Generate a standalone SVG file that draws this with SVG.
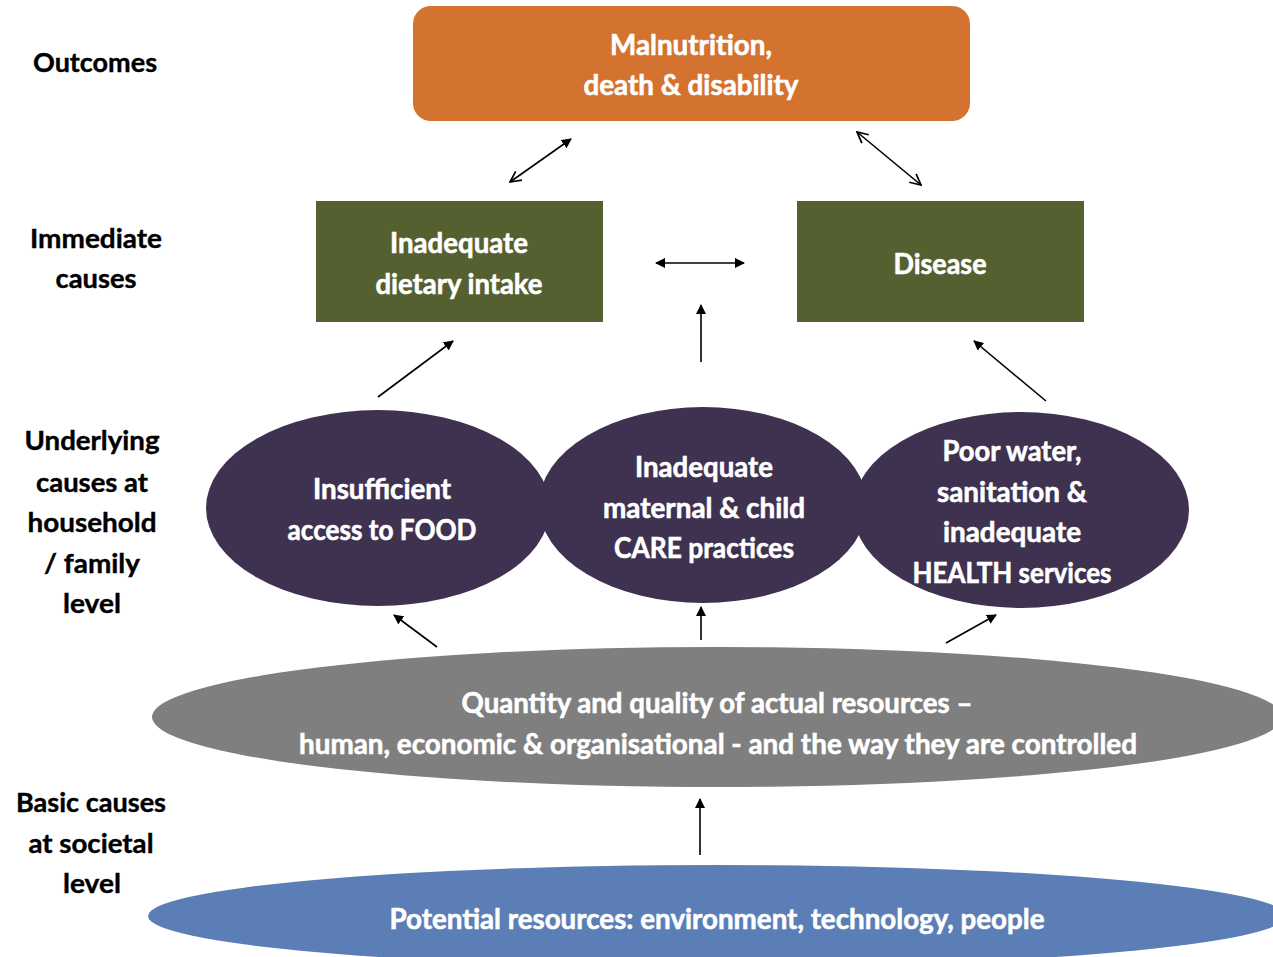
<svg xmlns="http://www.w3.org/2000/svg" width="1273" height="957" viewBox="0 0 1273 957">
  <defs>
    <style>
      .lbl { font-family: Lato, "Liberation Sans", sans-serif; font-weight: bold; font-size: 27px; fill: #000; stroke: #000; stroke-width: 0.4; text-anchor: middle; }
      .in  { font-family: Lato, "Liberation Sans", sans-serif; font-weight: bold; font-size: 29px; fill: #fff; stroke: #fff; stroke-width: 0.6; text-anchor: middle; }
      .edge { stroke: #000; stroke-width: 1.6; fill: none; }
    </style>
    <marker id="tri" viewBox="0 0 10 10" refX="9" refY="5" markerWidth="10" markerHeight="10" markerUnits="userSpaceOnUse" orient="auto-start-reverse">
      <path d="M0,0 L10,5 L0,10 z" fill="#000"/>
    </marker>
    <marker id="vee" viewBox="0 0 12 12" refX="11" refY="6" markerWidth="13" markerHeight="13" markerUnits="userSpaceOnUse" orient="auto-start-reverse">
      <path d="M1,1 L11,6 L1,11" fill="none" stroke="#000" stroke-width="1.6"/>
    </marker>
  </defs>

  <rect width="1273" height="957" fill="#fff"/>

  <!-- level labels -->
  <g id="labels">
    <text class="lbl" x="95" y="72" textLength="124" lengthAdjust="spacingAndGlyphs">Outcomes</text>
    <text class="lbl" x="96" y="248" textLength="132" lengthAdjust="spacingAndGlyphs">Immediate</text>
    <text class="lbl" x="96" y="288" textLength="81" lengthAdjust="spacingAndGlyphs">causes</text>
    <text class="lbl" x="92" y="450" textLength="135" lengthAdjust="spacingAndGlyphs">Underlying</text>
    <text class="lbl" x="92" y="492" textLength="112" lengthAdjust="spacingAndGlyphs">causes at</text>
    <text class="lbl" x="92" y="532" textLength="129" lengthAdjust="spacingAndGlyphs">household</text>
    <text class="lbl" x="92" y="573" textLength="96" lengthAdjust="spacingAndGlyphs">/ family</text>
    <text class="lbl" x="92" y="613" textLength="58" lengthAdjust="spacingAndGlyphs">level</text>
    <text class="lbl" x="91" y="812" textLength="150" lengthAdjust="spacingAndGlyphs">Basic causes</text>
    <text class="lbl" x="91" y="853" textLength="125" lengthAdjust="spacingAndGlyphs">at societal</text>
    <text class="lbl" x="92" y="893" textLength="58" lengthAdjust="spacingAndGlyphs">level</text>
  </g>

  <!-- outcome -->
  <g id="outcome">
    <rect x="413" y="6" width="557" height="115" rx="18" fill="#D4722F"/>
    <text class="in" x="691" y="55" textLength="162" lengthAdjust="spacingAndGlyphs">Malnutrition,</text>
    <text class="in" x="691" y="95" textLength="215" lengthAdjust="spacingAndGlyphs">death &amp; disability</text>
  </g>

  <!-- immediate causes -->
  <g id="intake">
    <rect x="316" y="201" width="287" height="121" fill="#546030"/>
    <text class="in" x="459" y="253" textLength="138" lengthAdjust="spacingAndGlyphs">Inadequate</text>
    <text class="in" x="459" y="294" textLength="167" lengthAdjust="spacingAndGlyphs">dietary intake</text>
  </g>
  <g id="disease">
    <rect x="797" y="201" width="287" height="121" fill="#546030"/>
    <text class="in" x="940" y="274" textLength="93" lengthAdjust="spacingAndGlyphs">Disease</text>
  </g>

  <!-- underlying causes -->
  <g id="food">
    <ellipse cx="378" cy="508" rx="172" ry="98" fill="#3F3150"/>
  </g>
  <g id="water">
    <ellipse cx="1021" cy="510" rx="168" ry="98" fill="#3F3150"/>
  </g>
  <g id="care">
    <ellipse cx="703" cy="505" rx="164" ry="98" fill="#3F3150"/>
    <text class="in" x="704" y="477" textLength="138" lengthAdjust="spacingAndGlyphs">Inadequate</text>
    <text class="in" x="704" y="518" textLength="202" lengthAdjust="spacingAndGlyphs">maternal &amp; child</text>
    <text class="in" x="704" y="558" textLength="180" lengthAdjust="spacingAndGlyphs">CARE practices</text>
  </g>
  <g id="food-text">
    <text class="in" x="382" y="499" textLength="138" lengthAdjust="spacingAndGlyphs">Insufficient</text>
    <text class="in" x="382" y="540" textLength="189" lengthAdjust="spacingAndGlyphs">access to FOOD</text>
  </g>
  <g id="water-text">
    <text class="in" x="1012" y="461" textLength="139" lengthAdjust="spacingAndGlyphs">Poor water,</text>
    <text class="in" x="1012" y="502" textLength="150" lengthAdjust="spacingAndGlyphs">sanitation &amp;</text>
    <text class="in" x="1012" y="542" textLength="138" lengthAdjust="spacingAndGlyphs">inadequate</text>
    <text class="in" x="1012" y="583" textLength="199" lengthAdjust="spacingAndGlyphs">HEALTH services</text>
  </g>

  <!-- basic causes -->
  <g id="actual">
    <ellipse cx="717" cy="717" rx="565" ry="70" fill="#7F7F7F"/>
    <text class="in" x="717" y="713" textLength="511" lengthAdjust="spacingAndGlyphs">Quantity and quality of actual resources –</text>
    <text class="in" x="718" y="754" textLength="838" lengthAdjust="spacingAndGlyphs">human, economic &amp; organisational - and the way they are controlled</text>
  </g>
  <g id="potential">
    <ellipse cx="717" cy="916" rx="569" ry="51" fill="#5A7EB5"/>
    <text class="in" x="717" y="929" textLength="655" lengthAdjust="spacingAndGlyphs">Potential resources: environment, technology, people</text>
  </g>

  <!-- connectors -->
  <g id="connectors">
    <line class="edge" x1="510" y1="182" x2="571" y2="139" marker-start="url(#vee)" marker-end="url(#tri)"/>
    <line class="edge" x1="857" y1="132" x2="921" y2="185" marker-start="url(#vee)" marker-end="url(#vee)"/>
    <line class="edge" x1="656" y1="263" x2="744" y2="263" marker-start="url(#tri)" marker-end="url(#tri)"/>
    <line class="edge" x1="701" y1="362" x2="701" y2="305" marker-end="url(#tri)"/>
    <line class="edge" x1="378" y1="397" x2="453" y2="341" marker-end="url(#tri)"/>
    <line class="edge" x1="1046" y1="401" x2="974" y2="341" marker-end="url(#tri)"/>
    <line class="edge" x1="437" y1="647" x2="394" y2="615" marker-end="url(#tri)"/>
    <line class="edge" x1="701" y1="640" x2="701" y2="607" marker-end="url(#tri)"/>
    <line class="edge" x1="946" y1="643" x2="996" y2="615" marker-end="url(#tri)"/>
    <line class="edge" x1="700" y1="855" x2="700" y2="799" marker-end="url(#tri)"/>
  </g>
</svg>
